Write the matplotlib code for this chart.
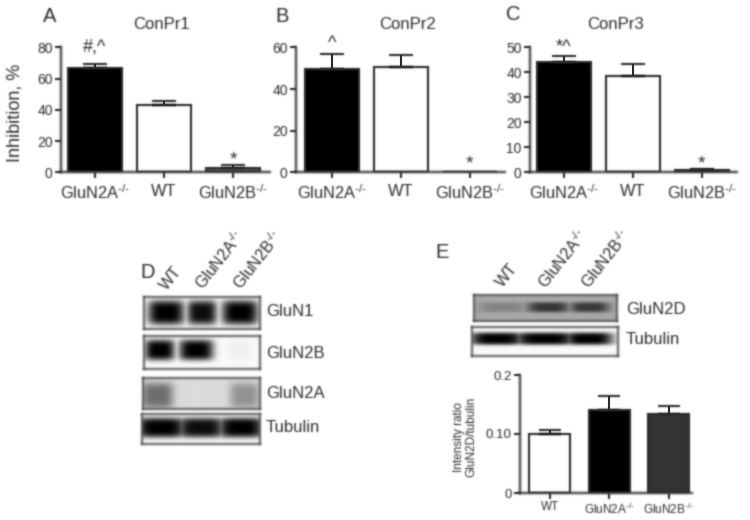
import matplotlib
matplotlib.use('Agg')
import matplotlib.pyplot as plt
from matplotlib.image import AxesImage
from matplotlib.lines import Line2D
from matplotlib.patches import Patch
from matplotlib.text import Text
import numpy as np

plt.rcParams['font.family'] = ['Liberation Sans', 'DejaVu Sans']
plt.rcParams['mathtext.fontset'] = 'custom'
plt.rcParams['mathtext.rm'] = 'Liberation Sans'
plt.rcParams['mathtext.default'] = 'regular'

W, H = 750, 520
INK = '#2a2a2a'
KO_A = r'GluN2A$^{\text{-/-}}$'
KO_B = r'GluN2B$^{\text{-/-}}$'

groups = [KO_A, 'WT', KO_B]
groups_e = ['WT', KO_A, KO_B]

conpr1 = [67, 43, 3]
conpr1_err = [2.5, 3, 1.5]
conpr2 = [49.5, 50.5, 0]
conpr2_err = [7.2, 6, 0]
conpr3 = [44.3, 38.5, 0.8]
conpr3_err = [2.2, 4.8, 0.7]
ratio = [0.100, 0.141, 0.134]
ratio_err = [0.007, 0.024, 0.013]

# ブロットのバンド: (中心, 半幅, 濃さ)
gluN1 = [(0.19, 0.16, 1.0), (0.50, 0.13, 0.95), (0.83, 0.16, 1.0)]
gluN2b = [(0.135, 0.13, 1.0), (0.45, 0.15, 1.0), (0.82, 0.10, 0.04)]
gluN2a = [(0.12, 0.14, 0.5), (0.87, 0.13, 0.33)]
tubulin_d = [(0.16, 0.22, 1.0), (0.50, 0.21, 0.95), (0.84, 0.2, 1.0)]
gluN2d = [(0.20, 0.17, 0.22), (0.52, 0.15, 0.68), (0.81, 0.14, 0.66)]
tubulin_e = [(0.17, 0.19, 1.0), (0.50, 0.22, 1.0), (0.80, 0.17, 1.0)]


def px_axes(fig, x0, y_top, x1, y_bottom):
    return fig.add_axes([x0 / W, 1 - y_bottom / H, (x1 - x0) / W, (y_bottom - y_top) / H])


def put(fig, x, y, s, **kw):
    kw.setdefault('color', INK)
    kw.setdefault('va', 'center')
    return fig.text(x / W, 1 - y / H, s, **kw)


def draw_bars(ax, values, errs, colors, labels, xlim, ylim, yticks, width,
              capsize, ysize, xsize, xpad=4, yticklabels=None):
    x = np.arange(len(values))
    ax.bar(x, values, width=width, color=colors, edgecolor=INK, linewidth=1.5, zorder=2)
    for xi, v, e in zip(x, values, errs):
        if e > 0:
            ax.errorbar(xi, v, yerr=[[0], [e]], color=INK, elinewidth=1.5,
                        capsize=capsize, capthick=1.5, zorder=3)
    ax.set_xlim(*xlim)
    ax.set_ylim(*ylim)
    ax.set_xticks(x, labels, fontsize=xsize, color=INK)
    ax.set_yticks(yticks)
    if yticklabels:
        ax.set_yticklabels(yticklabels)
    ax.tick_params(axis='y', labelsize=ysize, labelcolor=INK, color=INK, width=1.5, length=4, pad=2)
    ax.tick_params(axis='x', color=INK, width=1.5, length=4, pad=xpad)
    ax.patch.set_alpha(0)
    for side in ['top', 'right']:
        ax.spines[side].set_visible(False)
    for side in ['left', 'bottom']:
        ax.spines[side].set_color(INK)
        ax.spines[side].set_linewidth(1.5)


def draw_blot(fig, box, bands, background, band_y, band_h):
    # バンドをぼかした画像として描画する。
    x0, y0, x1, y1 = box
    ax = px_axes(fig, x0, y0, x1, y1)
    yy, xx = np.mgrid[0:1:80j, 0:1:200j]
    dark = np.zeros_like(xx)
    for c, w, d in bands:
        dark = np.maximum(dark, d * np.exp(-((xx - c) / w) ** 4 - ((yy - band_y) / band_h) ** 4))
    ax.imshow(background * (1 - dark), cmap='gray', vmin=0, vmax=1, aspect='auto',
              extent=[0, 1, 1, 0])
    ax.set_xticks([])
    ax.set_yticks([])
    for s in ax.spines.values():
        s.set_color('#444444')
        s.set_linewidth(1.3)
    return ax


def soften(image, dpi):
    # 元画像のにじみを再現する。
    pad = 3
    img = np.pad(image, ((pad, pad), (pad, pad), (0, 0)))
    alpha = img[..., 3:]
    buf = np.concatenate([img[..., :3] * alpha, alpha], axis=2)
    kernel = np.array([0.03, 0.2, 0.54, 0.2, 0.03])
    for axis in (0, 1):
        buf = sum(k * np.roll(buf, i - 2, axis=axis) for i, k in enumerate(kernel))
    a = np.clip(buf[..., 3:], 1e-4, 1)
    out = np.concatenate([np.clip(buf[..., :3] / a, 0, 1), a], axis=2)
    return out, -pad, -pad


fig = plt.figure(figsize=(W / 100, H / 100), dpi=100)

ax_a = px_axes(fig, 61, 47.5, 270, 172.5)
draw_bars(ax_a, conpr1, conpr1_err, ['black', 'white', '#555555'], groups,
          (-0.49, 2.53), (0, 80), [0, 20, 40, 60, 80], 0.78, 8.6, 10, 11.8)
ax_b = px_axes(fig, 296, 47.5, 505, 172.5)
draw_bars(ax_b, conpr2, conpr2_err, ['black', 'white', '#555555'], groups,
          (-0.52, 2.51), (0, 60), [0, 20, 40, 60], 0.78, 8.6, 10, 11.8)
ax_c = px_axes(fig, 530, 47.5, 737, 172.5)
draw_bars(ax_c, conpr3, conpr3_err, ['black', 'white', 'black'], groups,
          (-0.49, 2.51), (0, 50), [0, 10, 20, 30, 40, 50], 0.78, 8.6, 10, 11.8)
ax_e = px_axes(fig, 520, 375, 692, 493)
draw_bars(ax_e, ratio, ratio_err, ['white', 'black', '#333333'], groups_e,
          (-0.5, 2.39), (0, 0.2), [0, 0.1, 0.2], 0.69, 8, 9.5, 8.5, xpad=2,
          yticklabels=['0', '0.10', '0.2'])

# 有意差の記号
ax_a.text(0, 80, '#,^', ha='center', va='center', fontsize=13, color=INK, clip_on=False)
ax_a.text(2, 8, '*', ha='center', va='center', fontsize=14, color=INK)
ax_b.text(0, 62, '^', ha='center', va='center', fontsize=13, color=INK, clip_on=False)
ax_b.text(2, 4, '*', ha='center', va='center', fontsize=14, color=INK)
ax_c.text(0, 50, '*^', ha='center', va='center', fontsize=13, color=INK, clip_on=False)
ax_c.text(2, 3.5, '*', ha='center', va='center', fontsize=14, color=INK)

put(fig, 15, 113, 'Inhibition, %', rotation=90, fontsize=13, ha='center')
put(fig, 465, 437, 'Intensity ratio\nGluN2D/tubulin', rotation=90, fontsize=8.5, ha='center',
    linespacing=1.1)

for x, y, s in [(50, 16, 'A'), (282, 16, 'B'), (513, 15, 'C'), (148, 272, 'D'), (442, 253, 'E')]:
    put(fig, x, y, s, fontsize=14.5, ha='center')
for x, s in [(161, 'ConPr1'), (407, 'ConPr2'), (615, 'ConPr3')]:
    put(fig, x, 24, s, fontsize=12, ha='center')

draw_blot(fig, (144, 297, 260, 329), gluN1, 0.98, 0.5, 0.38)
draw_blot(fig, (144, 336, 260, 369), gluN2b, 0.98, 0.42, 0.32)
draw_blot(fig, (143, 378, 260, 409), gluN2a, 0.86, 0.58, 0.42)
draw_blot(fig, (142, 414, 260, 444), tubulin_d, 0.98, 0.47, 0.33)
draw_blot(fig, (474, 295, 617, 321), gluN2d, 0.66, 0.47, 0.2)
draw_blot(fig, (472, 327, 618, 356), tubulin_e, 0.98, 0.4, 0.22)

for y, s in [(311, 'GluN1'), (353, 'GluN2B'), (394, 'GluN2A'), (427, 'Tubulin')]:
    put(fig, 266, y, s, fontsize=12, ha='left')
for y, s in [(310, 'GluN2D'), (340, 'Tubulin')]:
    put(fig, 626, y, s, fontsize=12, ha='left')

for x, y, s in [(169, 293, 'WT'), (206, 293, KO_A), (244, 293, KO_B),
                (505, 290, 'WT'), (549, 292, KO_A), (592, 292, KO_B)]:
    put(fig, x, y, s, fontsize=11.5, rotation=52, ha='left', va='bottom', rotation_mode='anchor')

for artist in fig.findobj(lambda a: isinstance(a, (Text, Line2D, Patch, AxesImage))):
    if artist is fig.patch or artist in [a.patch for a in fig.axes]:
        continue
    artist.set_agg_filter(soften)

fig.savefig('out.png', dpi=100)
